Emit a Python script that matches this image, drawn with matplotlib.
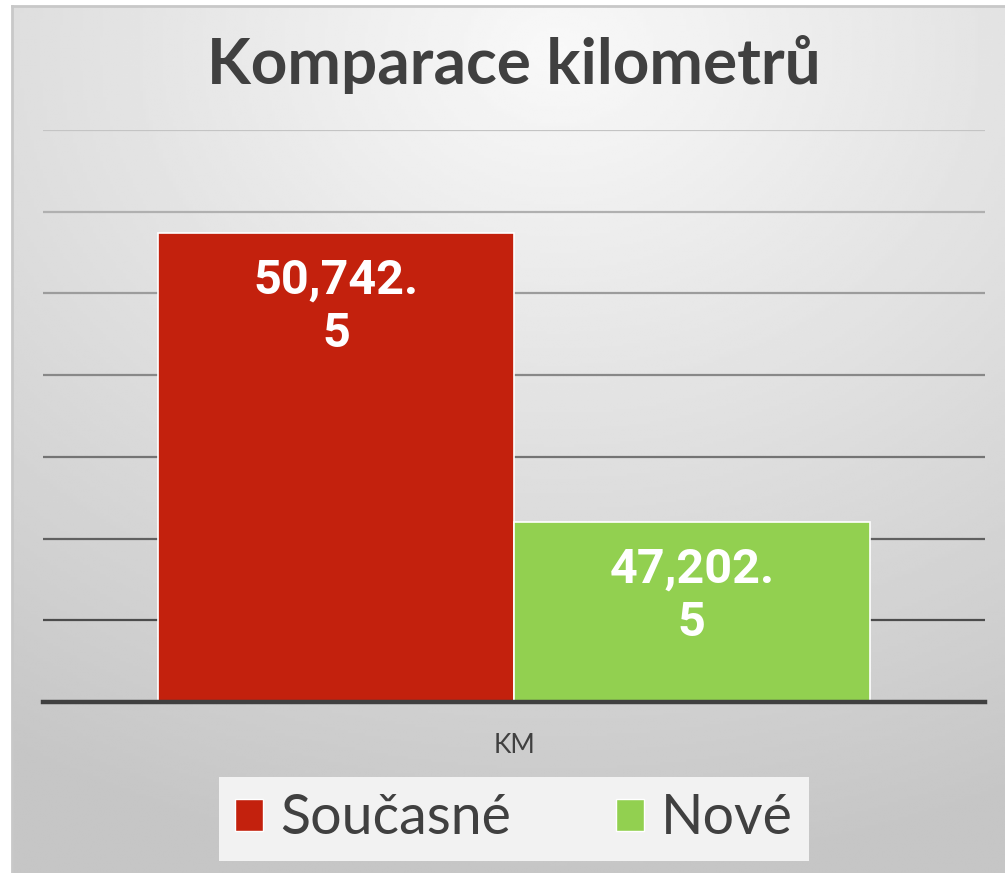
import numpy as np
import matplotlib
matplotlib.use("Agg")
import matplotlib.pyplot as plt
from matplotlib.patches import Patch

# data
title = "Komparace kilometrů"
category = "KM"
series = ["Současné", "Nové"]
values = [50742.5, 47202.5]
colors = ["#c3210d", "#92d050"]
y_min, y_max, y_step = 45000, 52000, 1000

fig = plt.figure(figsize=(10.05, 8.73), dpi=100)
fig.patch.set_facecolor("white")

# background panel with soft radial gradient
bg = fig.add_axes([12 / 1005, 0, 1 - 12 / 1005, 1 - 6 / 873], zorder=0)
yy, xx = np.mgrid[0:1:300j, 0:1:300j]
r = np.sqrt(((xx - 0.55) * 1.0) ** 2 + ((yy - 0.05) * 1.1) ** 2)
shade = 0.975 - 0.2 * np.clip(r / 1.05, 0, 1)
bg.imshow(shade, cmap="gray", vmin=0, vmax=1, aspect="auto",
          extent=[0, 1, 0, 1], origin="upper", interpolation="bilinear")
bg.set_xlim(0, 1)
bg.set_ylim(0, 1)
bg.set_xticks([])
bg.set_yticks([])
for s in bg.spines.values():
    s.set_visible(False)
for s in ["top", "left"]:
    bg.spines[s].set_visible(True)
    bg.spines[s].set_color("#c8c8c8")
    bg.spines[s].set_linewidth(2)

ax = fig.add_axes([43 / 1005, 1 - 702 / 873, 942 / 1005, 572 / 873], zorder=1)
ax.patch.set_alpha(0)

w = 0.3775
xs = [-w / 2, w / 2]
bars = ax.bar(xs, values, width=w, color=colors, edgecolor="white",
              linewidth=1.2, zorder=3)
ax.set_xlim(-0.5, 0.5)
ax.set_ylim(y_min, y_max)
ticks = np.arange(y_min, y_max + 1, y_step)
ax.set_yticks(ticks)
ax.set_xticks([])
ax.tick_params(left=False, labelleft=False)
ax.grid(axis="y", linewidth=1.6, zorder=0)
gl = ax.get_ygridlines()
n = len(gl)
for i, line in enumerate(gl):
    t = i / (n - 1)
    g = 0.22 + 0.55 * t
    line.set_color((g, g, g))
for s in ["top", "right", "left"]:
    ax.spines[s].set_visible(False)
ax.spines["bottom"].set_color("#404040")
ax.spines["bottom"].set_linewidth(3.2)
ax.spines["bottom"].set_zorder(4)

for b, v in zip(bars, values):
    s = f"{v:,.1f}"
    txt = s[:-1] + "\n" + s[-1]
    ax.annotate(txt, (b.get_x() + b.get_width() / 2, v), xytext=(0, -18),
                textcoords="offset points", ha="center", va="top",
                color="white", fontsize=35, fontweight="bold", family="Roboto",
                linespacing=1.2, zorder=5)

ax.text(0.5, -0.055, category, transform=ax.transAxes, ha="center",
        va="top", fontsize=19, color="#404040", family="Lato")

fig.text(0.511, 1 - 65 / 873, title, ha="center", va="center", fontsize=46,
         fontweight="bold", color="#404040", family="Lato")

handles = [Patch(facecolor=c, edgecolor="white", linewidth=1) for c in colors]
leg = fig.legend(handles, series, loc="center", bbox_to_anchor=(514 / 1005, 1 - 819 / 873),
                 ncol=2, frameon=True, handlelength=0.5,
                 handleheight=0.5, handletextpad=0.3, columnspacing=1.9,
                 borderpad=0.3, fancybox=False,
                 prop={"family": "Lato", "size": 40})
leg.get_frame().set_facecolor("#f2f2f2")
leg.get_frame().set_edgecolor("none")
leg.get_frame().set_alpha(1)
for t in leg.get_texts():
    t.set_color("#404040")

fig.savefig("out.png", dpi=100)
